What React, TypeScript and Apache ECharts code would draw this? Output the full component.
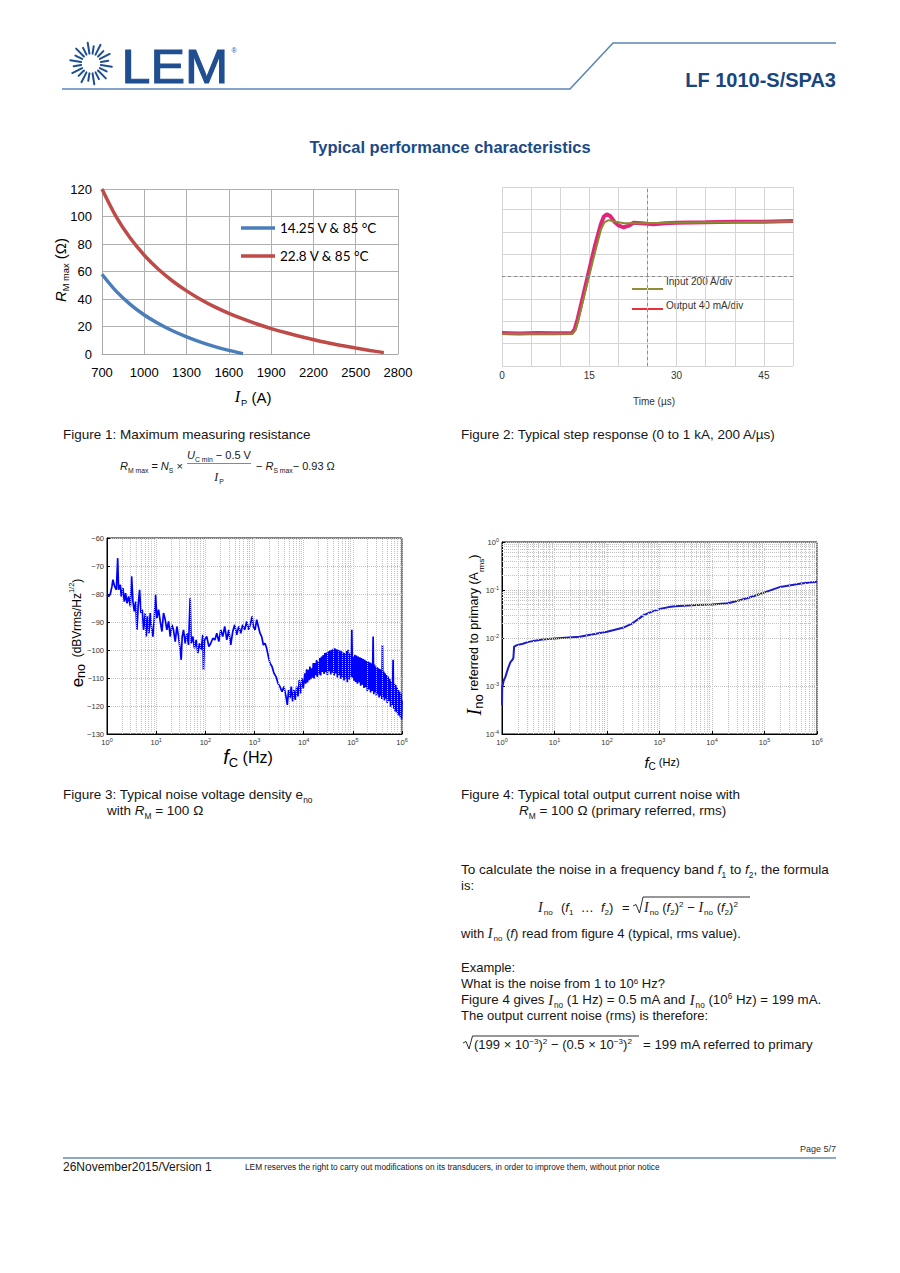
import React, { useEffect, useRef } from 'react';
import * as echarts from 'echarts';

// ---------- Figure 1: maximum measuring resistance ----------
const fig1Currents = ['700', '800', '900', '1000', '1100', '1200', '1300', '1400', '1500', '1600', '1700', '1800', '1900', '2000', '2100', '2200', '2300', '2400', '2500', '2600', '2700', '2800'];
const fig1Low = [58.0, 45.7, 36.1, 28.4, 22.2, 16.9, 12.5, 8.7, 5.4, 2.6, 0.3, null, null, null, null, null, null, null, null, null, null, null];
const fig1High = [120.0, 99.9, 84.3, 71.8, 61.6, 53.1, 45.9, 39.7, 34.3, 29.6, 25.5, 21.8, 18.5, 15.6, 12.9, 10.5, 8.2, 6.2, 4.3, 2.6, 1.0, null];
const fig1Names = ['14.25 V & 85 °C', '22.8 V & 85 °C'];

// ---------- Figure 2: step response (time in µs, level in divisions) ----------
const fig2TimeLabels = [0, 15, 30, 45];
const stepOutput = [
  [0, 1.47], [3, 1.45], [6, 1.48], [9, 1.46], [12.0, 1.47], [12.5, 1.65], [13, 2.1], [14, 3.2], [15, 4.3], [16, 5.4],
  [17, 6.35], [17.5, 6.68], [18, 6.78], [18.6, 6.7], [19.3, 6.45], [20.1, 6.27], [20.9, 6.2], [21.7, 6.26], [22.6, 6.4],
  [24, 6.38], [26, 6.33], [28, 6.38], [30, 6.4], [35, 6.42], [40, 6.45], [45, 6.45], [50, 6.48],
];
const stepInput = [
  [0, 1.44], [12.1, 1.44], [12.6, 1.6], [13, 1.95], [14, 3.0], [15, 4.05], [16, 5.1], [17, 6.1], [17.6, 6.42],
  [18.3, 6.52], [19.5, 6.45], [21, 6.38], [23, 6.38], [30, 6.4], [40, 6.43], [50, 6.46],
];

// ---------- Figure 3: noise voltage density (Hz, dBVrms/Hz^1/2) ----------
const noiseDensity = [
  [1, -80.3], [1.08, -80.9], [1.17, -80.0], [1.26, -77.3], [1.32, -74.9], [1.43, -77.3], [1.55, -78.5], [1.65, -67.2],
  [1.72, -78.5], [1.87, -76.7], [1.95, -80.9], [2.11, -77.9], [2.25, -82.7], [2.39, -79.7], [2.55, -83.3], [2.75, -80.9],
  [2.98, -84.4], [3.17, -73.7], [3.37, -82.7], [3.59, -86.2], [3.82, -82.7], [4.06, -92.8], [4.32, -83.8], [4.6, -78.5],
  [4.9, -86.8], [5.21, -85.6], [5.55, -92.8], [6.0, -86.8], [6.28, -95.2], [6.69, -88.0], [7.12, -94.0], [7.58, -86.8],
  [8.07, -92.2], [8.59, -95.2], [9.14, -89.2], [9.72, -80.3], [10.35, -88.6], [11.2, -85.6], [12.1, -89.8], [13.1, -93.4],
  [14.1, -86.8], [15.3, -89.2], [16.5, -92.8], [17.9, -89.8], [19.3, -95.2], [20.9, -91.0], [22.5, -92.8], [24.4, -97.0],
  [26.4, -91.6], [28.5, -95.2], [30.8, -99.9], [32.3, -103.5], [33.8, -95.2], [36.0, -92.8], [38.9, -97.6], [42.1, -94.0],
  [45.5, -98.2], [49.1, -81.5], [51.5, -97.6], [55.7, -95.2], [60.1, -99.4], [65.0, -96.4], [70.3, -101.1], [76.0, -97.6],
  [82.2, -99.9], [88.9, -94.6], [91.6, -107.1], [96.0, -96.4], [107, -95.2], [118, -98.8], [129, -97.6], [142, -95.8],
  [156, -96.4], [171, -94.0], [188, -97.0], [206, -92.8], [226, -95.2], [248, -91.6], [273, -96.4], [299, -92.8],
  [329, -98.2], [361, -93.4], [396, -91.0], [435, -94.6], [478, -91.6], [525, -94.0], [576, -91.0], [632, -92.8],
  [695, -89.8], [762, -92.8], [837, -90.4], [891, -88.0], [948, -91.6], [1026, -92.8], [1109, -89.2], [1197, -91.6],
  [1294, -94.0], [1400, -95.2], [1514, -98.2], [1637, -97.6], [1770, -99.4], [1910, -102.3], [2066, -104.7], [2268, -105.9],
  [2489, -108.3], [2735, -109.5], [3005, -111.9], [3297, -113.1], [3623, -114.9], [3973, -113.1], [4365, -116.6],
  [4645, -119.6], [4943, -114.3], [5260, -117.2], [5598, -113.1], [5957, -118.4], [6339, -114.3], [6746, -117.8],
  [7190, -113.1], [7650, -116.6], [8140, -110.7], [8670, -115.5], [9230, -110.1], [9820, -113.7], [10600, -108.3],
  [11000, -112.0], [11500, -106.9], [12000, -111.6], [12400, -107.1], [12900, -110.8], [13400, -105.9], [13900, -110.4],
  [14500, -106.5], [15100, -109.9], [15700, -104.7], [16300, -110.2], [16900, -104.7], [17600, -109.0], [18300, -103.6],
  [19000, -109.6], [19800, -104.1], [20600, -108.7], [21400, -102.9], [22200, -109.1], [23100, -102.3], [24000, -107.8],
  [25000, -101.8], [26000, -108.6], [27000, -101.1], [28100, -107.9], [29200, -100.9], [30400, -109.0], [31600, -100.5],
  [32800, -107.6], [34100, -100.2], [35500, -108.7], [36900, -99.9], [38400, -108.1], [39900, -99.6], [41500, -109.2],
  [43100, -99.4], [44800, -108.4], [46600, -99.7], [48500, -109.8], [50400, -99.9], [52400, -109.0], [54500, -100.2],
  [56600, -110.3], [58900, -100.5], [61200, -109.6], [63600, -100.9], [66200, -110.9], [68800, -101.1], [71500, -110.2],
  [74300, -100.4], [77300, -111.5], [80400, -99.9], [83600, -110.6], [86900, -101.2], [91000, -109.5], [95400, -92.8],
  [98500, -109.9], [101600, -102.4], [105700, -111.0], [109900, -101.7], [114200, -111.4], [118700, -102.0],
  [123400, -112.0], [128300, -102.3], [133400, -111.6], [138700, -102.6], [144200, -112.8], [150000, -102.9],
  [156000, -112.4], [162200, -103.2], [168700, -113.6], [175400, -103.5], [182200, -113.3], [189300, -103.9],
  [196800, -114.6], [204700, -104.1], [212900, -114.1], [221300, -104.4], [230200, -115.2], [239300, -104.7],
  [248900, -114.6], [258800, -95.2], [266900, -115.8], [275400, -105.2], [284100, -115.1], [293100, -105.9],
  [302300, -116.4], [311900, -106.2], [321700, -115.7], [331900, -106.5], [342400, -117.0], [353200, -106.8],
  [364400, -116.3], [375800, -107.1], [387700, -117.5], [399900, -98.2], [412500, -116.8], [425600, -107.7],
  [439000, -118.0], [452900, -108.3], [467200, -117.4], [481900, -108.9], [501000, -118.9], [521200, -109.5],
  [542000, -118.2], [563600, -110.4], [586000, -120.3], [609500, -111.3], [634000, -119.6], [659100, -103.5],
  [680000, -121.0], [701400, -112.0], [723000, -121.9], [746400, -112.5], [770000, -122.2], [794300, -113.4],
  [820000, -123.0], [845300, -114.3], [872000, -123.4], [899500, -114.9], [928000, -124.1], [957200, -115.5],
  [978000, -124.8], [1000000, -118.0],
];

// ---------- Figure 4: total output current noise (Hz, A rms) ----------
const noiseCurrent = [
  [1.0, 4.0e-4], [1.01, 9.5e-4], [1.08, 1.3e-3], [1.16, 1.55e-3], [1.3, 2.3e-3], [1.44, 3.1e-3], [1.6, 3.6e-3],
  [1.65, 3.9e-3], [1.7, 6.6e-3], [1.93, 7.1e-3], [2.5, 7.6e-3], [3.2, 8.3e-3], [5.8, 9.3e-3], [10, 9.8e-3],
  [30, 1.06e-2], [100, 1.35e-2], [200, 1.63e-2], [300, 2.0e-2], [400, 2.5e-2], [500, 3.0e-2], [700, 3.5e-2],
  [1000, 4.0e-2], [1500, 4.4e-2], [2000, 4.6e-2], [5000, 4.85e-2], [10000, 5.0e-2], [20000, 5.3e-2], [30000, 5.9e-2],
  [50000, 6.9e-2], [100000, 8.9e-2], [200000, 0.116], [500000, 0.136], [1000000, 0.148],
];

const F = '"Liberation Sans", Arial, Helvetica, sans-serif';
const FSERIF = '"Liberation Serif", "Times New Roman", serif';
const FCAL = 'Lato, "Open Sans", sans-serif';
const LEMBLUE = '#1f4f91';
const TXT = '#161616';

// gridline helpers (decade sub-divisions)
const minorDecades = (from: number, to: number) => {
  const out: number[] = [];
  for (let k = from; k < to; k++) for (let m = 2; m <= 9; m++) out.push(m * Math.pow(10, k));
  return out;
};

function richSet(size: number, color: string) {
  const lh = Math.round(size * 1.4);
  const s = Math.round(size * 0.62 * 10) / 10;
  return {
    n: { fontSize: size, fontFamily: F, fill: color, lineHeight: lh },
    i: { fontSize: size, fontFamily: F, fontStyle: 'italic', fill: color, lineHeight: lh },
    I: { fontSize: size * 1.08, fontFamily: FSERIF, fontStyle: 'italic', fill: color, lineHeight: lh, padding: [0, 1, 0, 0] },
    sub: { fontSize: s, fontFamily: F, fill: color, verticalAlign: 'bottom' },
    sup: { fontSize: s, fontFamily: F, fill: color, padding: [0, 0, Math.round(size * 0.42), 0] },
  };
}

function txt(x: number, y: number, text: string, size: number, o: any = {}) {
  const color = o.color || TXT;
  const align = o.align || 'left';
  const style: any = {
    text,
    fill: color,
    fontSize: size,
    fontFamily: o.family || F,
    fontWeight: o.weight || 'normal',
    fontStyle: o.fontStyle || 'normal',
    align,
    textAlign: align,
    verticalAlign: 'middle',
    textVerticalAlign: 'middle',
  };
  if (o.stroke) { style.stroke = o.stroke; style.lineWidth = o.strokeWidth || 1; }
  if (text.indexOf('{') >= 0) style.rich = o.rich || richSet(size, color);
  const el: any = { type: 'text', x, y, rotation: o.rotation || 0, silent: true, style };
  if (o.scaleX) el.scaleX = o.scaleX;
  return el;
}

function line(x1: number, y1: number, x2: number, y2: number, color: string, w: number) {
  return { type: 'line', silent: true, shape: { x1, y1, x2, y2 }, style: { stroke: color, lineWidth: w } };
}

function poly(points: number[][], color: string, w: number) {
  return { type: 'polyline', silent: true, shape: { points }, style: { stroke: color, lineWidth: w, fill: 'none' } };
}

const logLabel = (v: number) => {
  const e = Math.round(Math.log10(v));
  return '{b|10}{s|' + e + '}';
};
const logRich = {
  b: { fontSize: 7.5, fontFamily: F, color: '#333', lineHeight: 11 },
  s: { fontSize: 5.5, fontFamily: F, color: '#333', verticalAlign: 'top' },
};

function buildGraphic() {
  const g: any[] = [];
  // logo rays
  const cx = 91, cy = 63.5;
  for (let k = 0; k < 20; k++) {
    const a = (k * 18 + 9) * Math.PI / 180;
    const r1 = 10;
    const r2 = k % 2 === 0 ? 21 : 17.5;
    g.push({
      type: 'line', silent: true,
      shape: { x1: cx + r1 * Math.cos(a), y1: cy + r1 * Math.sin(a), x2: cx + r2 * Math.cos(a), y2: cy + r2 * Math.sin(a) },
      style: { stroke: LEMBLUE, lineWidth: 2, lineCap: 'round' },
    });
  }
  g.push(txt(121.5, 66, 'LEM', 49, { color: LEMBLUE, stroke: LEMBLUE, strokeWidth: 1.1, scaleX: 1.06 }));
  g.push(txt(234, 50, '®', 7, { color: LEMBLUE, align: 'center' }));
  g.push(poly([[62, 89], [570, 89], [613, 43], [836, 43]], '#5b86b7', 1.6));
  g.push(txt(836, 80, 'LF 1010-S/SPA3', 20, { color: '#17467f', weight: 'bold', align: 'right' }));
  g.push(txt(450, 147, 'Typical performance characteristics', 16.5, { color: '#1b4a86', weight: 'bold', align: 'center' }));

  // Figure 1 axis titles
  g.push(txt(60, 270, '{i|R}{sub|M max}{n| (Ω)}', 15, { align: 'center', rotation: Math.PI / 2, color: '#000' }));
  g.push(txt(253, 397, '{I|I}{sub|P}{n| (A)}', 15, { align: 'center', color: '#000' }));

  // Figure 2 labels / legend
  g.push(txt(654, 401, 'Time (µs)', 10, { align: 'center', color: '#333' }));
  g.push(line(632, 289, 663, 289, '#8f8f3a', 2));
  g.push(line(632, 309, 663, 309, '#e8303f', 2));
  g.push(txt(666, 281, 'Input 200 A/div', 10, { color: '#333' }));
  g.push(txt(666, 305, 'Output 40 mA/div', 10, { color: '#333' }));

  // Captions fig 1 / fig 2
  g.push(txt(63, 434, 'Figure 1: Maximum measuring resistance', 13.5));
  g.push(txt(461, 434, 'Figure 2: Typical step response (0 to 1 kA, 200 A/µs)', 13.5));
  // Formula
  g.push(txt(120, 466, '{i|R}{sub|M max}{n| = }{i|N}{sub|S}{n| ×}', 11));
  g.push(txt(219, 455, '{i|U}{sub|C min}{n| − 0.5 V}', 11, { align: 'center' }));
  g.push(line(187, 463.5, 251, 463.5, '#555', 0.7));
  g.push(txt(219, 477, '{I|I}{sub|P}', 11, { align: 'center' }));
  g.push(txt(256, 466, '{n|− }{i|R}{sub|S max}{n|− 0.93 Ω}', 11));

  // Figure 3 axis titles
  g.push(txt(77, 633, '{e|e}{es|no}{m|  (dBVrms/Hz}{ms|1/2}{m|)}', 12, {
    align: 'center', rotation: Math.PI / 2, color: '#000',
    rich: {
      e: { fontSize: 17, fontFamily: F, fill: '#000', lineHeight: 20 },
      es: { fontSize: 12.5, fontFamily: F, fill: '#000', verticalAlign: 'bottom' },
      m: { fontSize: 12, fontFamily: F, fill: '#000', lineHeight: 20 },
      ms: { fontSize: 7.5, fontFamily: F, fill: '#000', verticalAlign: 'top' },
    },
  }));
  g.push(txt(248, 757, '{f|f}{fs|C}{h| (Hz)}', 16, {
    align: 'center', color: '#000',
    rich: {
      f: { fontSize: 20, fontFamily: F, fontStyle: 'italic', fill: '#000', lineHeight: 24 },
      fs: { fontSize: 13, fontFamily: F, fill: '#000', verticalAlign: 'bottom' },
      h: { fontSize: 16, fontFamily: F, fill: '#000', lineHeight: 24 },
    },
  }));
  // Figure 4 axis titles
  g.push(txt(474, 635, '{I|I}{Is|no}{m| referred to primary (A}{ms|rms}{m|)}', 12.5, {
    align: 'center', rotation: Math.PI / 2, color: '#000',
    rich: {
      I: { fontSize: 20, fontFamily: FSERIF, fontStyle: 'italic', fill: '#000', lineHeight: 22 },
      Is: { fontSize: 13, fontFamily: F, fill: '#000', verticalAlign: 'bottom' },
      m: { fontSize: 12.5, fontFamily: F, fill: '#000', lineHeight: 22 },
      ms: { fontSize: 8, fontFamily: F, fill: '#000', verticalAlign: 'bottom' },
    },
  }));
  g.push(txt(662, 762, '{f|f}{fs|C}{h| (Hz)}', 11, {
    align: 'center', color: '#000',
    rich: {
      f: { fontSize: 15, fontFamily: F, fontStyle: 'italic', fill: '#000', lineHeight: 18 },
      fs: { fontSize: 10, fontFamily: F, fill: '#000', verticalAlign: 'bottom' },
      h: { fontSize: 11, fontFamily: F, fill: '#000', lineHeight: 18 },
    },
  }));

  // Captions fig 3 / fig 4
  g.push(txt(63, 794, '{n|Figure 3: Typical noise voltage density e}{sub|no}', 13.5));
  g.push(txt(107, 810, '{n|with }{i|R}{sub|M}{n| = 100 Ω}', 13.5));
  g.push(txt(461, 794, 'Figure 4: Typical total output current noise with', 13.5));
  g.push(txt(519, 810, '{i|R}{sub|M}{n| = 100 Ω (primary referred, rms)}', 13.5));

  // Text block
  g.push(txt(461, 869, '{n|To calculate the noise in a frequency band }{i|f}{sub|1}{n| to }{i|f}{sub|2}{n|, the formula}', 13.55));
  g.push(txt(461, 885, 'is:', 13));
  g.push(txt(538, 907, '{I|I}{sub|no}', 13));
  g.push(txt(561, 907, '{n|(}{i|f}{sub|1}{n|  …  }{i|f}{sub|2}{n|)}', 13));
  g.push(txt(622, 907, '=', 13));
  g.push(poly([[633, 906], [636, 904.5], [639.5, 913], [643, 897], [750, 897]], TXT, 0.9));
  g.push(txt(644, 907, '{I|I}{sub|no}{n| (}{i|f}{sub|2}{n|)}{sup|2}{n| − }{I|I}{sub|no}{n| (}{i|f}{sub|2}{n|)}{sup|2}', 13));
  g.push(txt(461, 933, '{n|with }{I|I}{sub|no}{n| (}{i|f}{n|) read from figure 4 (typical, rms value).}', 13));
  g.push(txt(461, 967, 'Example:', 13));
  g.push(txt(461, 983.5, '{n|What is the noise from 1 to 10}{sup|6}{n| Hz?}', 13));
  g.push(txt(461, 999.5, '{n|Figure 4 gives }{I|I}{sub|no}{n| (1 Hz) = 0.5 mA and }{I|I}{sub|no}{n| (10}{sup|6}{n| Hz) = 199 mA.}', 13.3));
  g.push(txt(461, 1015, 'The output current noise (rms) is therefore:', 13));
  g.push(poly([[463, 1043], [466, 1041.5], [469, 1049], [472.5, 1036], [639, 1036]], TXT, 0.9));
  g.push(txt(474, 1044, '{n|(199 × 10}{sup|−3}{n|)}{sup|2}{n| − (0.5 × 10}{sup|−3}{n|)}{sup|2}', 13));
  g.push(txt(643, 1044, '= 199 mA referred to primary', 13.3));

  // Footer
  g.push(txt(836, 1149, 'Page 5/7', 9, { align: 'right', color: '#333' }));
  g.push(line(63, 1158, 836, 1158, '#8da7c6', 1.8));
  g.push(txt(63, 1167, '26November2015/Version 1', 12));
  g.push(txt(245, 1167, 'LEM reserves the right to carry out modifications on its transducers, in order to improve them, without prior notice', 8.3));
  return g;
}

export default function App() {
  const ref = useRef<HTMLDivElement>(null);
  useEffect(() => {
    if (!ref.current) return;
    const chart = echarts.init(ref.current, null, { renderer: 'svg' });
    const minorX = minorDecades(0, 6);
    const minorY = minorDecades(-4, 0);
    const dotted = { color: '#c2c2c2', type: 'dotted', width: 1 };
    const option: any = {
      animation: false,
      backgroundColor: '#ffffff',
      textStyle: { fontFamily: F },
      grid: [
        { left: 102, top: 189, width: 296, height: 165 },
        { left: 502, top: 187, width: 291, height: 179 },
        { left: 107, top: 538, width: 295, height: 196, show: true, borderColor: '#000', borderWidth: 1, backgroundColor: 'transparent' },
        { left: 502, top: 542, width: 315, height: 192, show: true, borderColor: '#000', borderWidth: 1, backgroundColor: 'transparent' },
      ],
      legend: [
        {
          left: 241, top: 221, padding: 0, data: [fig1Names[0]], icon: 'rect', itemWidth: 34, itemHeight: 3.5,
          selectedMode: false, textStyle: { fontSize: 13.5, fontFamily: FCAL, color: '#000' },
        },
        {
          left: 241, top: 249, padding: 0, data: [fig1Names[1]], icon: 'rect', itemWidth: 34, itemHeight: 3.5,
          selectedMode: false, textStyle: { fontSize: 13.5, fontFamily: FCAL, color: '#000' },
        },
      ],
      xAxis: [
        {
          gridIndex: 0, type: 'category', data: fig1Currents, boundaryGap: false,
          axisLine: { show: true, lineStyle: { color: '#a8a8a8' } }, axisTick: { show: false },
          axisLabel: { interval: 2, color: '#000', fontSize: 13, fontFamily: F, margin: 12 },
          splitLine: { show: true, interval: 2, lineStyle: { color: '#b0b0b0', width: 1 } },
        },
        {
          gridIndex: 1, type: 'value', min: 0, max: 50, interval: 5,
          axisLine: { show: false }, axisTick: { show: false },
          axisLabel: { formatter: (v: number) => (fig2TimeLabels.indexOf(v) >= 0 ? String(v) : ''), color: '#333', fontSize: 10, fontFamily: F, margin: 4 },
          splitLine: { show: true, lineStyle: { color: '#d5d5d5', width: 1 } },
        },
        {
          gridIndex: 2, type: 'log', logBase: 10, min: 1, max: 1e6,
          axisLine: { show: true, lineStyle: { color: '#000' } },
          axisTick: { show: true, inside: true, length: 3, lineStyle: { color: '#000' } },
          axisLabel: { formatter: logLabel, rich: logRich, margin: 3 },
          splitLine: { show: true, lineStyle: dotted },
        },
        {
          gridIndex: 3, type: 'log', logBase: 10, min: 1, max: 1e6,
          axisLine: { show: true, lineStyle: { color: '#000' } },
          axisTick: { show: true, inside: true, length: 3, lineStyle: { color: '#000' } },
          axisLabel: { formatter: logLabel, rich: logRich, margin: 3 },
          splitLine: { show: true, lineStyle: dotted },
        },
      ],
      yAxis: [
        {
          gridIndex: 0, type: 'value', min: 0, max: 120, interval: 20,
          axisLine: { show: true, lineStyle: { color: '#a8a8a8' } }, axisTick: { show: false },
          axisLabel: { color: '#000', fontSize: 13, fontFamily: F, margin: 10 },
          splitLine: { show: true, lineStyle: { color: '#b0b0b0', width: 1 } },
        },
        {
          gridIndex: 1, type: 'value', min: 0, max: 8, interval: 1,
          axisLine: { show: false }, axisTick: { show: false }, axisLabel: { show: false },
          splitLine: { show: true, lineStyle: { color: '#d5d5d5', width: 1 } },
        },
        {
          gridIndex: 2, type: 'value', min: -130, max: -60, interval: 10,
          axisLine: { show: true, lineStyle: { color: '#000' } },
          axisTick: { show: true, inside: true, length: 3, lineStyle: { color: '#000' } },
          axisLabel: { formatter: (v: number) => (v < 0 ? '−' + (-v) : String(v)), color: '#333', fontSize: 7.5, fontFamily: F, margin: 3 },
          splitLine: { show: true, lineStyle: dotted },
        },
        {
          gridIndex: 3, type: 'log', logBase: 10, min: 1e-4, max: 1,
          axisLine: { show: true, lineStyle: { color: '#000' } },
          axisTick: { show: true, inside: true, length: 3, lineStyle: { color: '#000' } },
          axisLabel: { formatter: logLabel, rich: logRich, margin: 3 },
          splitLine: { show: true, lineStyle: dotted },
        },
      ],
      series: [
        {
          type: 'line', name: fig1Names[0], xAxisIndex: 0, yAxisIndex: 0, data: fig1Low, smooth: 0.3,
          showSymbol: false, symbol: 'none', lineStyle: { width: 3.5, color: '#4a7ebb' }, itemStyle: { color: '#4a7ebb' },
        },
        {
          type: 'line', name: fig1Names[1], xAxisIndex: 0, yAxisIndex: 0, data: fig1High, smooth: 0.3,
          showSymbol: false, symbol: 'none', lineStyle: { width: 3.5, color: '#be4b48' }, itemStyle: { color: '#be4b48' },
        },
        {
          type: 'line', name: 'Output 40 mA/div', xAxisIndex: 1, yAxisIndex: 1, data: stepOutput,
          showSymbol: false, symbol: 'none', lineStyle: { width: 4, color: '#e0267a' },
          markLine: {
            silent: true, symbol: ['none', 'none'], label: { show: false },
            lineStyle: { color: '#8c8c8c', type: [3, 3], width: 1 },
            data: [{ xAxis: 25 }, { yAxis: 4 }],
          },
        },
        {
          type: 'line', name: 'Input 200 A/div', xAxisIndex: 1, yAxisIndex: 1, data: stepInput,
          showSymbol: false, symbol: 'none', lineStyle: { width: 2, color: '#8a8a2e' },
        },
        {
          type: 'line', name: 'eno', xAxisIndex: 2, yAxisIndex: 2, data: noiseDensity,
          showSymbol: false, symbol: 'none', lineStyle: { width: 1.7, color: '#0000ff' },
          markLine: {
            silent: true, symbol: ['none', 'none'], label: { show: false }, lineStyle: dotted,
            data: minorX.map((v) => ({ xAxis: v })),
          },
        },
        {
          type: 'line', name: 'Ino', xAxisIndex: 3, yAxisIndex: 3, data: noiseCurrent,
          showSymbol: false, symbol: 'none', lineStyle: { width: 2, color: '#1c1cc8' },
          markLine: {
            silent: true, symbol: ['none', 'none'], label: { show: false }, lineStyle: dotted,
            data: minorX.map((v) => ({ xAxis: v })).concat(minorY.map((v) => ({ yAxis: v }) as any)),
          },
        },
      ],
      graphic: buildGraphic(),
    };
    chart.setOption(option);
    return () => chart.dispose();
  }, []);
  return <div ref={ref} style={{ position: 'absolute', left: 0, top: 0, width: 900, height: 1273, background: '#fff' }} />;
}
